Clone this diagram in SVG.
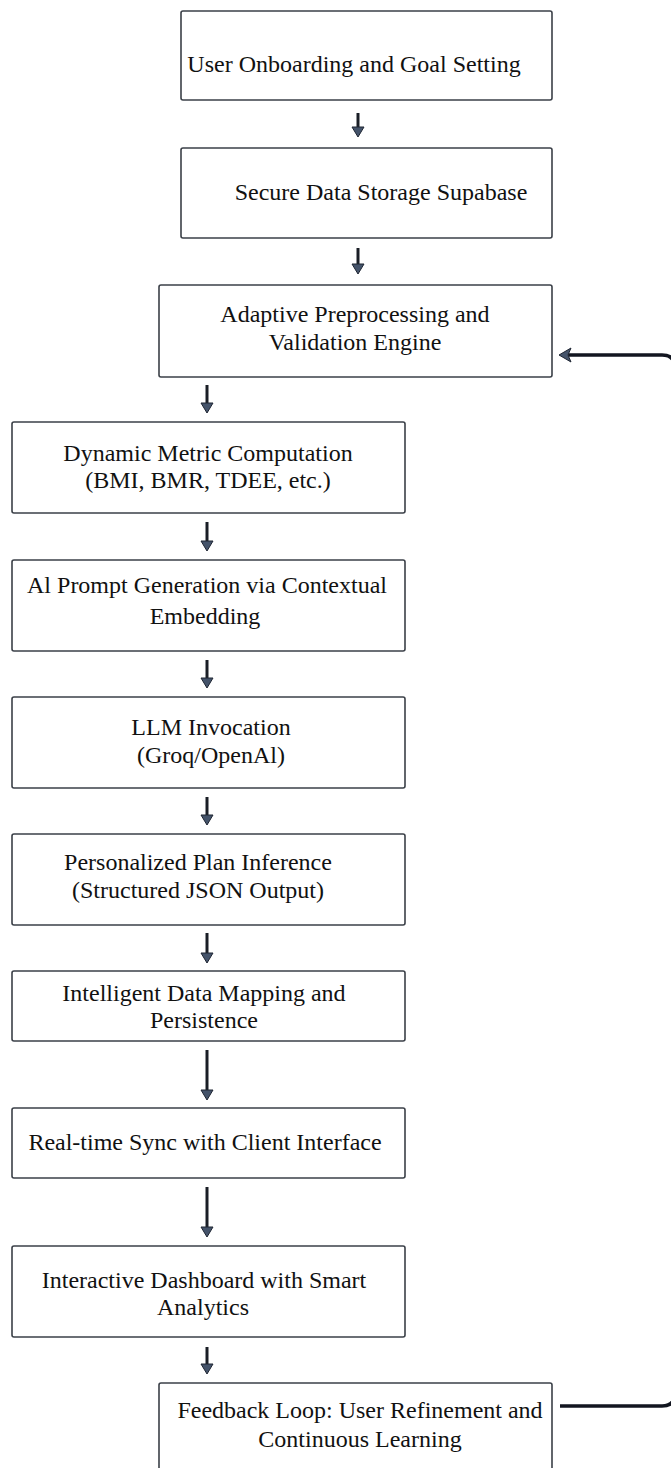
<svg xmlns="http://www.w3.org/2000/svg" width="671" height="1468" viewBox="0 0 671 1468">
<defs>
<style>
.box{fill:#ffffff;stroke:#3b4048;stroke-width:1.6}
.t{font-family:"Liberation Serif","Times New Roman",serif;font-size:24px;fill:#111111;text-anchor:middle}
.shaft{stroke:#1a1e26;stroke-width:3;fill:none}
.head{fill:#44536a;stroke:#1f2633;stroke-width:1}
.loop{stroke:#121620;stroke-width:3.5;fill:none}
</style>
</defs>
<rect width="671" height="1468" fill="#ffffff"/>
<g id="connectors">
<g><line class="shaft" x1="358" y1="113" x2="358" y2="128"/><polygon class="head" points="352,127 364,127 358,137"/></g>
<g><line class="shaft" x1="358" y1="248" x2="358" y2="265"/><polygon class="head" points="352,264 364,264 358,274"/></g>
<g><line class="shaft" x1="207" y1="385" x2="207" y2="404"/><polygon class="head" points="201,403 213,403 207,413"/></g>
<g><line class="shaft" x1="207" y1="522" x2="207" y2="542"/><polygon class="head" points="201,541 213,541 207,551"/></g>
<g><line class="shaft" x1="207" y1="660" x2="207" y2="679"/><polygon class="head" points="201,678 213,678 207,688"/></g>
<g><line class="shaft" x1="207" y1="797" x2="207" y2="816"/><polygon class="head" points="201,815 213,815 207,825"/></g>
<g><line class="shaft" x1="207" y1="933" x2="207" y2="954"/><polygon class="head" points="201,953 213,953 207,963"/></g>
<g><line class="shaft" x1="207" y1="1050" x2="207" y2="1091"/><polygon class="head" points="201,1090 213,1090 207,1100"/></g>
<g><line class="shaft" x1="207" y1="1187" x2="207" y2="1228"/><polygon class="head" points="201,1227 213,1227 207,1237"/></g>
<g><line class="shaft" x1="207" y1="1347" x2="207" y2="1365"/><polygon class="head" points="201,1364 213,1364 207,1374"/></g>
<g id="feedback-loop">
<path class="loop" d="M 566 355 H 662 Q 675 355 675 368 V 1393 Q 675 1406 662 1406 H 560"/>
<polygon class="head" points="559,355 571,348 568,355 571,362"/>
</g>
</g>
<g id="n1"><rect class="box" x="181" y="11" width="371" height="89" rx="2"/><text class="t" x="354" y="72">User Onboarding and Goal Setting</text></g>
<g id="n2"><rect class="box" x="181" y="148" width="371" height="90" rx="2"/><text class="t" x="381" y="200">Secure Data Storage Supabase</text></g>
<g id="n3"><rect class="box" x="159" y="285" width="393" height="92" rx="2"/><text class="t" x="355" y="322">Adaptive Preprocessing and</text><text class="t" x="355" y="350">Validation Engine</text></g>
<g id="n4"><rect class="box" x="12" y="422" width="393" height="91" rx="2"/><text class="t" x="208" y="461">Dynamic Metric Computation</text><text class="t" x="208" y="488">(BMI, BMR, TDEE, etc.)</text></g>
<g id="n5"><rect class="box" x="12" y="560" width="393" height="91" rx="2"/><text class="t" x="207" y="593">Al Prompt Generation via Contextual</text><text class="t" x="205" y="624">Embedding</text></g>
<g id="n6"><rect class="box" x="12" y="697" width="393" height="91" rx="2"/><text class="t" x="211" y="735">LLM Invocation</text><text class="t" x="211" y="763">(Groq/OpenAl)</text></g>
<g id="n7"><rect class="box" x="12" y="834" width="393" height="91" rx="2"/><text class="t" x="198" y="870">Personalized Plan Inference</text><text class="t" x="198" y="898">(Structured JSON Output)</text></g>
<g id="n8"><rect class="box" x="12" y="971" width="393" height="70" rx="2"/><text class="t" x="204" y="1001">Intelligent Data Mapping and</text><text class="t" x="204" y="1028">Persistence</text></g>
<g id="n9"><rect class="box" x="12" y="1108" width="393" height="70" rx="2"/><text class="t" x="205" y="1150">Real-time Sync with Client Interface</text></g>
<g id="n10"><rect class="box" x="12" y="1246" width="393" height="91" rx="2"/><text class="t" x="204" y="1288">Interactive Dashboard with Smart</text><text class="t" x="203" y="1315">Analytics</text></g>
<g id="n11"><rect class="box" x="159" y="1383" width="393" height="95" rx="2"/><text class="t" x="360" y="1418">Feedback Loop: User Refinement and</text><text class="t" x="360" y="1447">Continuous Learning</text></g>
</svg>
